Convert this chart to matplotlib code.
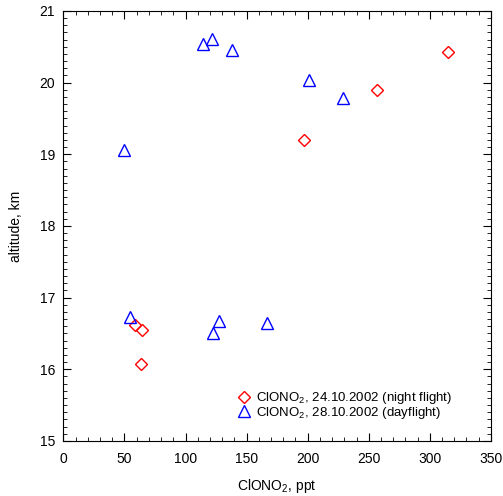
import matplotlib
matplotlib.use('Agg')
import matplotlib.pyplot as plt
from matplotlib.ticker import MultipleLocator

plt.rcParams['font.family'] = ['Liberation Sans', 'DejaVu Sans']
plt.rcParams['mathtext.fontset'] = 'custom'
plt.rcParams['mathtext.rm'] = 'Liberation Sans'

# night flight 24.10.2002
night_x = [197, 257, 314.5, 58.9, 64.3, 63.5]
night_y = [19.20, 19.89, 20.42, 16.62, 16.55, 16.07]

# day flight 28.10.2002
day_x = [50, 114, 121.6, 138, 201, 229, 54.8, 127, 122.4, 166.5]
day_y = [19.06, 20.54, 20.61, 20.46, 20.04, 19.79, 16.73, 16.68, 16.50, 16.65]

night_label = 'ClONO$_2$, 24.10.2002 (night flight)'
day_label = 'ClONO$_2$, 28.10.2002 (dayflight)'

fig = plt.figure(figsize=(5.03, 4.96), dpi=100)
ax = fig.add_axes([0.126, 0.111, 0.850, 0.867])

ax.plot(night_x, night_y, linestyle='none', marker='D', markersize=6.5,
        markerfacecolor='none', markeredgecolor='red', markeredgewidth=1.0,
        label=night_label)
ax.plot(day_x, day_y, linestyle='none', marker='^', markersize=9,
        markerfacecolor='none', markeredgecolor='blue', markeredgewidth=1.0,
        label=day_label)

ax.set_xlim(0, 350)
ax.set_ylim(15, 21)
ax.xaxis.set_major_locator(MultipleLocator(50))
ax.xaxis.set_minor_locator(MultipleLocator(10))
ax.yaxis.set_major_locator(MultipleLocator(1))
ax.yaxis.set_minor_locator(MultipleLocator(0.1))
ax.tick_params(which='both', direction='in', top=True, right=True, labelsize=10)
ax.tick_params(which='major', length=6, width=0.8)
ax.tick_params(which='minor', length=3, width=0.6)
ax.tick_params(axis='x', pad=8)
ax.tick_params(axis='y', pad=6)
for s in ax.spines.values():
    s.set_linewidth(0.8)

ax.set_xlabel('ClONO$_2$, ppt', fontsize=10, labelpad=8)
ax.set_ylabel('altitude, km', fontsize=10, labelpad=12)

ax.legend(loc='lower right', bbox_to_anchor=(0.93, 0.025), frameon=False,
          fontsize=9.5, handletextpad=0.3, labelspacing=-0.1, borderpad=0.2,
          handlelength=1.2)

fig.savefig('out.png', dpi=100)
